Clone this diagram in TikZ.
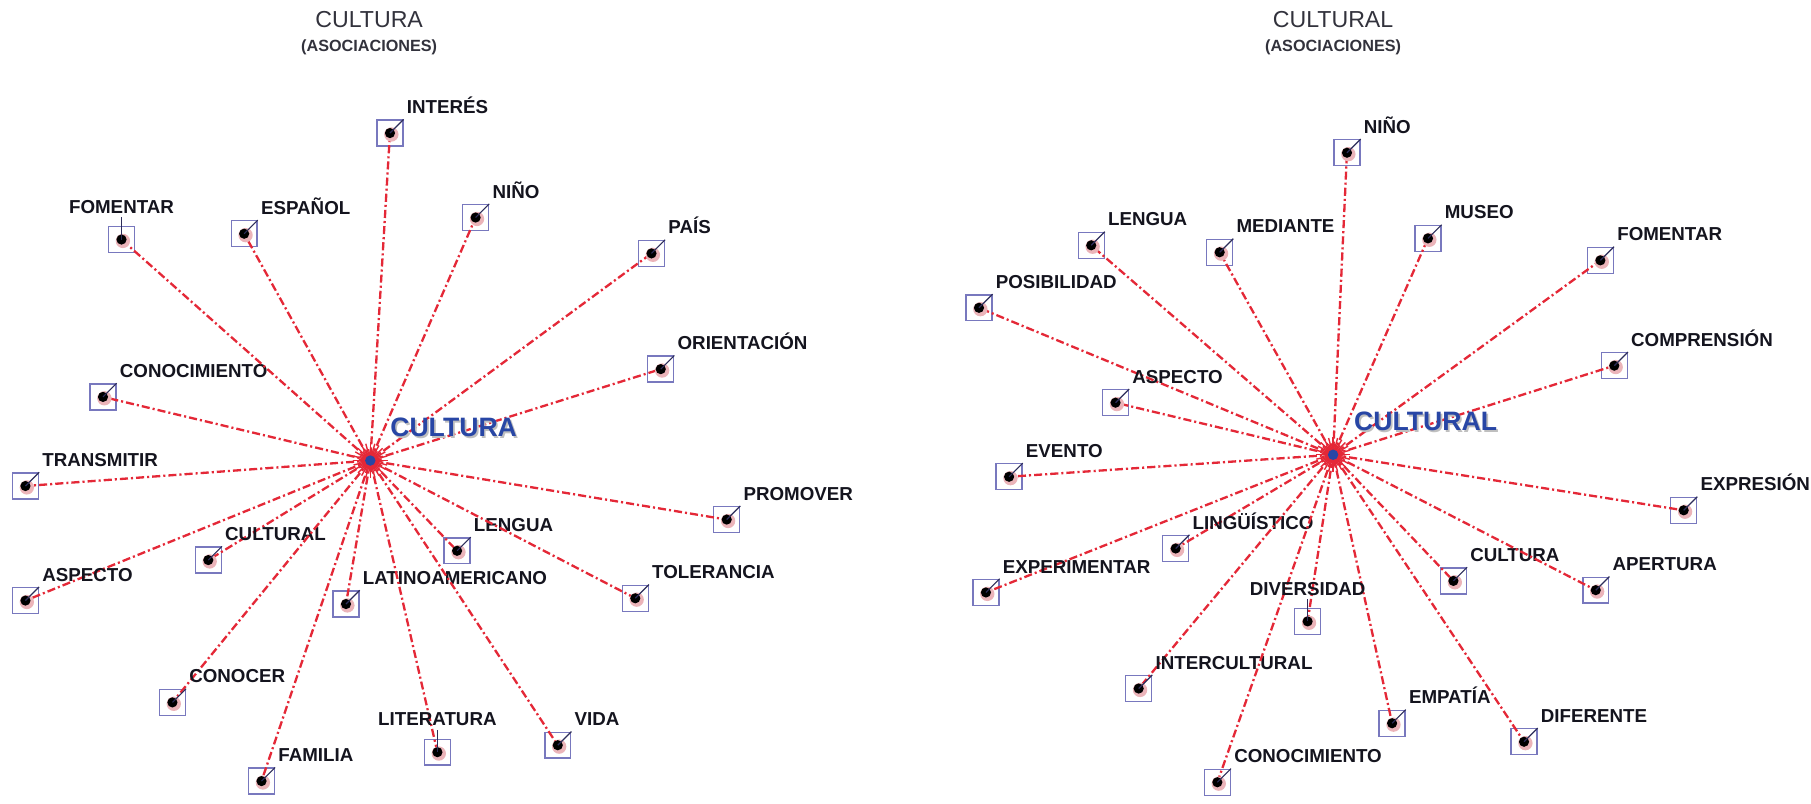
\documentclass[tikz,border=0pt]{standalone}
\usepackage{fontspec}
\setmainfont{Liberation Sans}
\definecolor{boxc}{RGB}{120,120,190}
\definecolor{connc}{RGB}{228,40,55}
\definecolor{haloc}{RGB}{235,180,185}
\definecolor{leadc}{RGB}{45,45,90}
\definecolor{labc}{RGB}{20,20,30}
\definecolor{ctrc}{RGB}{40,70,165}
\definecolor{titc}{RGB}{50,50,60}
\begin{document}
\begin{tikzpicture}[x=0.5pt,y=-0.5pt,
 box/.style={draw=boxc, line width=0.6pt, minimum size=11.2pt, inner sep=0pt},
 dotn/.style={circle, fill=black, minimum size=4.4pt, inner sep=0pt},
 halo/.style={circle, fill=haloc, minimum size=6.2pt, inner sep=0pt},
 lab/.style={font=\bfseries\fontsize{8.1}{9}\selectfont, inner sep=0pt, text=labc},
 conn/.style={draw=connc, line width=1pt, dash pattern=on 3.5pt off 1.3pt on 0.9pt off 1.3pt},
 leader/.style={draw=leadc, line width=0.5pt},
 ctr/.style={font=\bfseries\fontsize{11.5}{13}\selectfont, text=ctrc, inner sep=0pt},
 ctrsh/.style={font=\bfseries\fontsize{11.5}{13}\selectfont, text=black!25, inner sep=0pt},
 tit/.style={font=\fontsize{10}{12}\selectfont, text=titc, inner sep=0pt},
 subt/.style={font=\bfseries\fontsize{7}{8}\selectfont, text=titc, inner sep=0pt},
 burst/.style={draw=connc, line width=0.6pt}]
\useasboundingbox (0,0) rectangle (1565,694);

% titles
\node[tit] (TL1) at (319,17) {CULTURA};
\node[subt] (TL2) at (319,41) {(ASOCIACIONES)};
\node[tit] (TR1) at (1152,17) {CULTURAL};
\node[subt] (TR2) at (1152,41) {(ASOCIACIONES)};

% centres
\coordinate (CL) at (320,398);
\coordinate (CR) at (1152,393);

% ---------- left diagram ----------
\foreach \n/\x/\y/\t in {
 L1/337/115/INTERÉS, L3/211/202/ESPAÑOL, L4/411/188/NIÑO, L5/563/219/PAÍS,
 L6/571/319/ORIENTACIÓN, L7/89/343/CONOCIMIENTO, L8/22/420/TRANSMITIR,
 L9/180/484/CULTURAL, L10/22/519/ASPECTO, L11/395/476/LENGUA,
 L12/628/449/PROMOVER, L13/549/517/TOLERANCIA, L14/299/522/LATINOAMERICANO,
 L15/149/607/CONOCER, L17/482/644/VIDA, L18/226/675/FAMILIA}{
 \node[box] (\n) at (\x,\y) {};
 \draw[conn] (CL) -- (\n.center);
 \node[halo] (\n h) at ([xshift=0.6pt,yshift=-0.6pt]\n.center) {};
 \node[dotn] (\n d) at (\n.center) {};
 \draw[leader] (\n d.center) -- (\n.north east);
 \node[lab, anchor=base west] (\n t) at ([xshift=1.2pt,yshift=2.5pt]\n.north east) {\t};
}
\foreach \n/\x/\y/\t in {L2/105/207/FOMENTAR, L16/378/650/LITERATURA}{
 \node[box] (\n) at (\x,\y) {};
 \draw[conn] (CL) -- (\n.center);
 \node[halo] (\n h) at ([xshift=0.6pt,yshift=-0.6pt]\n.center) {};
 \node[dotn] (\n d) at (\n.center) {};
 \node[lab, anchor=base] (\n t) at ([yshift=5.5pt]\n.north) {\t};
 \draw[leader] (\n d.center) -- ([yshift=-1.5pt]\n t.south);
}

% ---------- right diagram ----------
\foreach \n/\x/\y/\t in {
 R1/1164/132/NIÑO, R2/943/212/LENGUA, R3/1054/218/MEDIANTE, R4/1234/206/MUSEO,
 R5/1383/225/FOMENTAR, R6/846/266/POSIBILIDAD, R7/964/348/ASPECTO,
 R8/1395/316/COMPRENSIÓN, R9/872/412/EVENTO, R10/1455/441/EXPRESIÓN,
 R11/1016/474/LINGÜÍSTICO, R12/1256/502/CULTURA, R13/1379/510/APERTURA,
 R14/852/512/EXPERIMENTAR, R16/984/595/INTERCULTURAL, R17/1203/625/EMPATÍA,
 R18/1317/641/DIFERENTE, R19/1052/676/CONOCIMIENTO}{
 \node[box] (\n) at (\x,\y) {};
 \draw[conn] (CR) -- (\n.center);
 \node[halo] (\n h) at ([xshift=0.6pt,yshift=-0.6pt]\n.center) {};
 \node[dotn] (\n d) at (\n.center) {};
 \draw[leader] (\n d.center) -- (\n.north east);
 \node[lab, anchor=base west] (\n t) at ([xshift=1.2pt,yshift=2.5pt]\n.north east) {\t};
}
\foreach \n/\x/\y/\t in {R15/1130/537/DIVERSIDAD}{
 \node[box] (\n) at (\x,\y) {};
 \draw[conn] (CR) -- (\n.center);
 \node[halo] (\n h) at ([xshift=0.6pt,yshift=-0.6pt]\n.center) {};
 \node[dotn] (\n d) at (\n.center) {};
 \node[lab, anchor=base] (\n t) at ([yshift=5.5pt]\n.north) {\t};
 \draw[leader] (\n d.center) -- ([yshift=-1.5pt]\n t.south);
}

% centre bursts
\foreach \c in {CL,CR}{
 \foreach \a in {0,15,...,345} \draw[burst] (\c) -- ++(\a:15);
 \foreach \a in {7,22,...,352} \draw[burst] (\c) -- ++(\a:10);
 \fill[ctrc] (\c) circle (4.5);
}

% centre labels
\node[ctrsh] (CLs) at (393.5,371) {CULTURA};
\node[ctr] (CLt) at (392,369) {CULTURA};
\node[ctrsh] (CRs) at (1233.5,366) {CULTURAL};
\node[ctr] (CRt) at (1232,364) {CULTURAL};
\end{tikzpicture}
\end{document}
